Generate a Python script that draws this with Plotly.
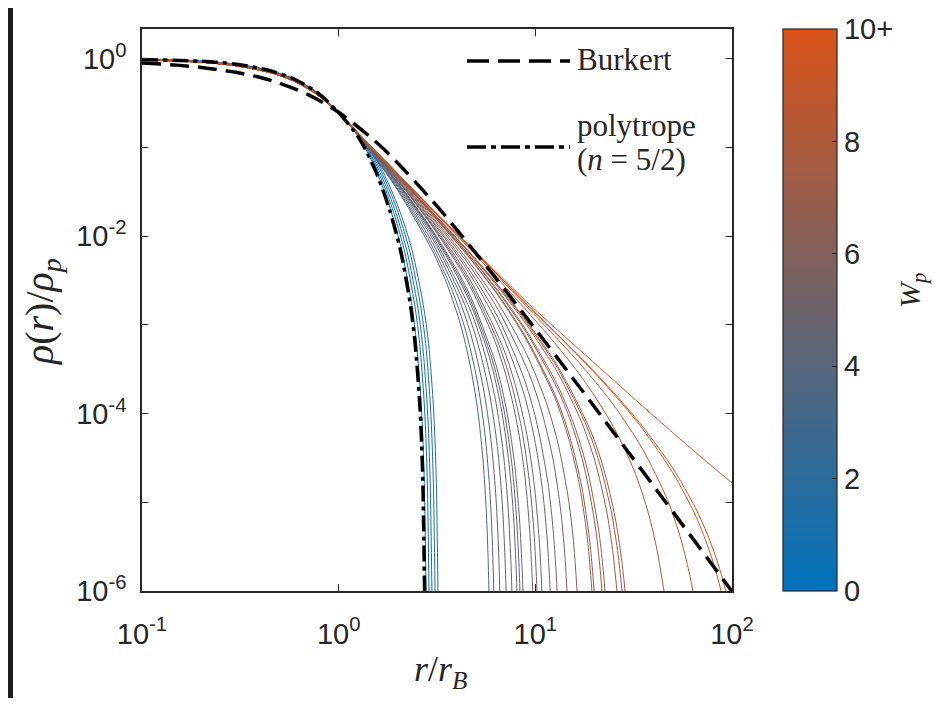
import plotly.graph_objects as go
from plotly.colors import sample_colorscale

# ---------------- data ----------------
# shared inner radii r/r_B (all profiles nearly coincide here)
r_inner = [0.1, 0.2, 0.3, 0.45, 0.6, 0.8, 1.05]
rho_inner_blue = [0.984, 0.94, 0.87, 0.735, 0.585, 0.398, 0.219]
rho_inner_gray = [0.98, 0.93, 0.855, 0.72, 0.57, 0.388, 0.219]
rho_inner_red = [0.975, 0.918, 0.838, 0.70, 0.555, 0.378, 0.219]

# W_p of each coloured profile
W_p = [0.3, 0.6, 0.9, 1.2, 1.5,
       3.6, 3.8, 4.0, 4.2, 4.4, 4.6, 4.7, 4.8, 5.1, 5.25, 5.4, 5.6, 5.8,
       6.0, 6.3, 6.6, 6.7, 6.9, 7.0, 7.3, 7.4, 7.5, 8.2, 8.8, 9.4, 9.7, 10.0]

# blue (low W_p) profiles: outer part
rho_blue_outer = [0.121, 0.0535, 0.0207, 0.00695, 0.00165, 6.17e-4, 1.43e-4, 5.98e-5, 1.64e-5, 1e-6]
r_b1 = [1.2945, 1.5591, 1.8255, 2.0918, 2.3575, 2.4896, 2.6208, 2.6737, 2.7256, 2.78]
r_b2 = [1.3064, 1.5877, 1.8722, 2.1566, 2.439, 2.5802, 2.7162, 2.771, 2.8247, 2.88]
r_b3 = [1.318, 1.6156, 1.9177, 2.2197, 2.5184, 2.6683, 2.8089, 2.8656, 2.9212, 2.98]
r_b4 = [1.3312, 1.6473, 1.9694, 2.2916, 2.6087, 2.7687, 2.9146, 2.9734, 3.0311, 3.09]
r_b5 = [1.3441, 1.6782, 2.02, 2.3617, 2.6969, 2.8666, 3.0177, 3.0786, 3.1383, 3.2]

# intermediate / high W_p profiles: outer part
r_g01 = [1.5, 2, 3, 3.576, 4.172, 4.649, 5.066, 5.364, 5.543, 5.662, 5.751, 5.81]
rho_g01 = [0.0809, 0.0328, 0.00682, 0.00279, 9.98e-4, 3.63e-4, 1.19e-4, 3.88e-5, 1.45e-5, 6.2e-6, 2.38e-6, 1e-6]
r_g02 = [1.5, 2, 3, 3.791, 4.423, 5.055, 5.529, 5.845, 6.035, 6.15]
rho_g02 = [0.082, 0.034, 0.00755, 0.0024, 8.59e-4, 2.39e-4, 6.17e-5, 1.54e-5, 3.96e-6, 1e-6]
r_g03 = [1.5, 2, 3, 4.076, 4.755, 5.434, 5.944, 6.283, 6.487, 6.6]
rho_g03 = [0.0832, 0.0355, 0.00843, 0.0020, 7.13e-4, 1.98e-4, 5.13e-5, 1.28e-5, 3.3e-6, 1e-6]
r_g04 = [1.5, 2, 3, 4.393, 5.125, 5.858, 6.407, 6.773, 6.993, 7.1]
rho_g04 = [0.0849, 0.0369, 0.00938, 0.00166, 5.93e-4, 1.64e-4, 4.27e-5, 1.06e-5, 2.74e-6, 1e-6]
r_g05 = [1.5, 2, 3, 4.714, 5.499, 6.285, 6.874, 7.267, 7.502, 7.6]
rho_g05 = [0.0861, 0.0382, 0.0102, 0.0014, 4.99e-4, 1.39e-4, 3.59e-5, 8.95e-6, 2.31e-6, 1e-6]
r_g06 = [1.5, 2, 3, 4.5, 5.844, 6.679, 7.305, 7.723, 7.973, 8.06]
rho_g06 = [0.087, 0.0392, 0.0109, 0.00212, 4.32e-4, 1.2e-4, 3.1e-5, 7.74e-6, 2.0e-6, 1e-6]
r_g07 = [1.5, 2, 3, 4.5, 6.062, 6.928, 7.578, 8.011, 8.27, 8.35]
rho_g07 = [0.0877, 0.0398, 0.0113, 0.00232, 3.95e-4, 1.1e-4, 2.84e-5, 7.1e-6, 1.83e-6, 1e-6]
r_g08 = [1.5, 2, 3, 4.5, 6.287, 7.186, 7.859, 8.308, 8.578, 8.65]
rho_g08 = [0.0883, 0.0404, 0.0117, 0.00254, 3.63e-4, 1.01e-4, 2.61e-5, 6.52e-6, 1.68e-6, 1e-6]
r_g09 = [1.5, 2, 3, 4.5, 6.069, 7.081, 8.092, 8.851, 9.356, 9.559, 9.7]
rho_g09 = [0.0895, 0.0419, 0.0128, 0.00314, 7.64e-4, 2.73e-4, 7.57e-5, 1.96e-5, 4.9e-6, 2.09e-6, 1e-6]
r_g10 = [1.5, 2, 3, 4.5, 6.395, 7.461, 8.527, 9.327, 9.86, 10.073, 10.2]
rho_g10 = [0.09, 0.0426, 0.0132, 0.0034, 6.75e-4, 2.41e-4, 6.7e-5, 1.73e-5, 4.33e-6, 1.85e-6, 1e-6]
r_g11 = [1.5, 2, 3, 4.5, 6.788, 7.919, 9.05, 9.899, 10.465, 10.691, 10.8]
rho_g11 = [0.0906, 0.043, 0.0137, 0.0037, 5.86e-4, 2.09e-4, 5.82e-5, 1.51e-5, 3.78e-6, 1.62e-6, 1e-6]
r_g12 = [1.5, 2, 3, 4.5, 6.5, 8.759, 10.01, 10.949, 11.575, 11.762, 11.9]
rho_g12 = [0.0914, 0.0441, 0.0145, 0.00418, 9.77e-4, 1.66e-4, 4.61e-5, 1.21e-5, 3.06e-6, 1.62e-6, 1e-6]
r_g13 = [1.5, 2, 3, 4.5, 6.5, 8.853, 10.215, 11.577, 12.258, 12.667, 12.9]
rho_g13 = [0.0923, 0.045, 0.0151, 0.00456, 1.18e-3, 2.33e-4, 7.53e-5, 1.68e-5, 5.52e-6, 2.07e-6, 1e-6]
r_g14 = [1.5, 2, 3, 4.5, 6.5, 9.246, 10.787, 12.328, 13.484, 14.1, 14.5]
rho_g14 = [0.0933, 0.0459, 0.0159, 0.00508, 0.00146, 2.9e-4, 1.05e-4, 2.98e-5, 7.83e-6, 2.69e-6, 1e-6]
r_g15 = [1.5, 2, 3, 4.5, 6.5, 9, 11.33, 13.07, 14.82, 15.69, 16.3]
rho_g15 = [0.0942, 0.0466, 0.0166, 0.00553, 0.00173, 4.73e-4, 1.36e-4, 4.49e-5, 1.0e-5, 3.3e-6, 1e-6]
r_g16 = [1.5, 2, 3, 4.5, 6.5, 9, 12.57, 14.665, 16.76, 18.33, 18.96, 19.4]
rho_g16 = [0.0948, 0.0476, 0.0174, 0.00612, 0.00211, 6.82e-4, 1.51e-4, 5.53e-5, 1.57e-5, 4.15e-6, 1.93e-6, 1e-6]
r_g17 = [1.5, 2, 3, 4.5, 6.5, 9, 12.91, 15.06, 17.22, 18.83, 19.48, 19.9]
rho_g17 = [0.0948, 0.0478, 0.0175, 0.00619, 0.00216, 7.13e-4, 1.43e-4, 5.24e-5, 1.49e-5, 3.92e-6, 1.83e-6, 1e-6]
r_g18 = [1.5, 2, 3, 4.5, 6.5, 9, 13, 15.44, 17.81, 20.19, 21.26, 21.8]
rho_g18 = [0.0951, 0.0482, 0.0179, 0.00646, 0.00233, 8.2e-4, 1.87e-4, 7.19e-5, 2.38e-5, 5.31e-6, 1.97e-6, 1e-6]
r_g19 = [1.5, 2, 3, 4.5, 6.5, 9, 13, 16.04, 18.51, 20.98, 22.04, 22.6]
rho_g19 = [0.0955, 0.0484, 0.018, 0.00656, 0.0024, 8.63e-4, 2.07e-4, 6.65e-5, 2.2e-5, 4.91e-6, 1.91e-6, 1e-6]
r_g20 = [1.5, 2, 3, 4.5, 6.5, 9, 13, 17.23, 20.1, 22.97, 24.69, 26.0]
rho_g20 = [0.0955, 0.0488, 0.0184, 0.00689, 0.00262, 1.01e-3, 2.88e-4, 7.89e-5, 2.9e-5, 8.27e-6, 2.94e-6, 1e-6]
r_g21 = [1.5, 2, 3, 4.5, 6.5, 9, 13, 18.38, 21.44, 24.5, 26.34, 27.6]
rho_g21 = [0.0957, 0.049, 0.0186, 0.00702, 0.00272, 1.07e-3, 3.22e-4, 6.93e-5, 2.55e-5, 7.26e-6, 2.58e-6, 1e-6]
r_g22 = [1.5, 2, 3, 4.5, 6.5, 9, 13, 19.1, 22.29, 25.47, 27.38, 28.6]
rho_g22 = [0.0959, 0.0491, 0.0187, 0.00708, 0.00277, 1.11e-3, 3.43e-4, 6.41e-5, 2.36e-5, 6.7e-6, 2.38e-6, 1e-6]
r_g23 = [1.5, 2, 3, 4.5, 6.5, 9, 13, 18, 25, 31.75, 37.04, 41.28, 45.1]
rho_g23 = [0.0966, 0.0499, 0.0195, 0.00773, 0.00325, 0.00146, 5.7e-4, 2.24e-4, 7.06e-5, 2.3e-5, 8.44e-6, 3.13e-6, 1e-6]
r_g24 = [1.5, 2, 3, 4.5, 6.5, 9, 13, 18, 25, 35, 47.17, 55.03, 59.75, 63.3]
rho_g24 = [0.097, 0.0504, 0.0198, 0.008, 0.00347, 0.00162, 6.9e-4, 3.09e-4, 1.25e-4, 4.03e-5, 1.04e-5, 3.81e-6, 1.85e-6, 1e-6]
r_g25 = [1.5, 2, 3, 4.5, 6.5, 9, 13, 18, 25, 35, 50, 65, 75, 82, 88]
rho_g25 = [0.0971, 0.0506, 0.02, 0.00817, 0.0036, 0.00172, 7.66e-4, 3.69e-4, 1.67e-4, 6.79e-5, 2.15e-5, 7.2e-6, 3.29e-6, 1.8e-6, 1e-6]
r_g26 = [1.5, 2, 3, 4.5, 6.5, 9, 13, 18, 25, 35, 50, 65, 75, 85, 93]
rho_g26 = [0.0972, 0.0507, 0.02, 0.00818, 0.00361, 0.00173, 7.76e-4, 3.77e-4, 1.73e-4, 7.21e-5, 2.42e-5, 8.75e-6, 4.34e-6, 2.02e-6, 1e-6]
r_top = [1.5, 2, 3, 4.5, 6.5, 9, 13, 18, 25, 35, 50, 70, 100]
rho_top = [0.0973, 0.0507, 0.0202, 0.00834, 0.00374, 0.00184, 8.7e-4, 4.56e-4, 2.38e-4, 1.22e-4, 6.1e-5, 3.2e-5, 1.65e-5]

# Burkert profile (dashed)
r_burkert = [0.1, 0.15, 0.2, 0.3, 0.4, 0.5, 0.7, 1, 1.5, 2, 3, 4, 6, 8, 10, 15, 20, 30, 40, 60, 80, 100]
rho_burkert = [0.9001, 0.8504, 0.8013, 0.7057, 0.6158, 0.5333, 0.3948, 0.25, 0.1231, 0.0667, 0.025,
               0.01176, 0.003861, 0.001709, 9.0e-4, 2.765e-4, 1.1875e-4, 3.58e-5, 1.523e-5,
               4.553e-6, 1.929e-6, 9.9e-7]

# polytrope n = 5/2 (dash-dot)
r_poly = [0.1, 0.2, 0.3, 0.45, 0.6, 0.8, 1.05, 1.289, 1.546, 1.804, 2.062, 2.32, 2.448, 2.577, 2.629, 2.68, 2.734]
rho_poly = [0.984, 0.94, 0.87, 0.735, 0.585, 0.398, 0.219, 0.121, 0.0535, 0.0207, 0.00695, 0.00165,
            6.17e-4, 1.43e-4, 5.98e-5, 1.64e-5, 1e-6]

x_tick_vals = [0.1, 1, 10, 100]
x_tick_text = ["10<sup>-1</sup>", "10<sup>0</sup>", "10<sup>1</sup>", "10<sup>2</sup>"]
y_tick_vals = [1e-6, 1e-4, 1e-2, 1]
y_tick_text = ["10<sup>-6</sup>", "10<sup>-4</sup>", "10<sup>-2</sup>", "10<sup>0</sup>"]
y_minor_vals = [1e-5, 1e-3, 1e-1]
cbar_tick_vals = [0, 2, 4, 6, 8, 10]
cbar_tick_text = ["0", "2", "4", "6", "8", "10+"]

# ---------------- figure ----------------
CS = [[0.0, "rgb(0,114,189)"], [1.0, "rgb(217,83,25)"]]
AX = "#262626"

blue_r = [r_b1, r_b2, r_b3, r_b4, r_b5]
other_r = [r_g01, r_g02, r_g03, r_g04, r_g05, r_g06, r_g07, r_g08, r_g09, r_g10, r_g11, r_g12, r_g13,
           r_g14, r_g15, r_g16, r_g17, r_g18, r_g19, r_g20, r_g21, r_g22, r_g23, r_g24, r_g25, r_g26, r_top]
other_rho = [rho_g01, rho_g02, rho_g03, rho_g04, rho_g05, rho_g06, rho_g07, rho_g08, rho_g09, rho_g10,
             rho_g11, rho_g12, rho_g13, rho_g14, rho_g15, rho_g16, rho_g17, rho_g18, rho_g19, rho_g20,
             rho_g21, rho_g22, rho_g23, rho_g24, rho_g25, rho_g26, rho_top]

curves = []
for rr in blue_r:
    curves.append((r_inner + rr, rho_inner_blue + rho_blue_outer))
for rr, yy in zip(other_r, other_rho):
    curves.append((rr, yy))

fig = go.Figure()
for i, (xx, yy) in enumerate(curves):
    w = W_p[i]
    if i >= 5:
        inner = rho_inner_gray if w < 6 else rho_inner_red
        xx = r_inner + xx
        yy = inner + yy
    col = sample_colorscale(CS, [w / 10.0])[0]
    fig.add_trace(go.Scatter(x=xx, y=yy, mode="lines",
                             line=dict(color=col, width=1, shape="spline", smoothing=0.8),
                             showlegend=False, hoverinfo="skip"))

fig.add_trace(go.Scatter(x=r_burkert, y=rho_burkert, mode="lines",
                         line=dict(color="black", width=3.5, dash="19px,9px", shape="spline", smoothing=0.8),
                         showlegend=False, hoverinfo="skip"))
fig.add_trace(go.Scatter(x=r_poly, y=rho_poly, mode="lines",
                         line=dict(color="black", width=3.5, dash="16px,5px,4px,5px", shape="spline", smoothing=0.8),
                         showlegend=False, hoverinfo="skip"))

# page geometry: the browser puts the figure 8 px from the page corner
OFF = 8
PL, PR, PT, PB = 142, 732, 29, 591          # plot box in page pixels
FW, FH = 941 - OFF, 706 - 2 * OFF
L, T = PL - OFF, PT - OFF
R, B = FW - (PR - OFF), FH - (PB - OFF)
PW, PH = PR - PL, PB - PT


def px(xp):
    return (xp - PL) / PW


def py(yp):
    return (PB - yp) / PH


tickfont = dict(family="Liberation Sans", size=29, color=AX)

# colour bar carrier (points lie outside the visible range)
fig.add_trace(go.Scatter(
    x=[0.01, 0.01], y=[1e-9, 1e-9], mode="markers", showlegend=False, hoverinfo="skip",
    marker=dict(color=[0, 10], cmin=0, cmax=10, colorscale=CS, size=1, showscale=True,
                colorbar=dict(x=px(783), xanchor="left", y=0, yanchor="bottom",
                              len=1, lenmode="fraction", thickness=54, thicknessmode="pixels",
                              xpad=0, ypad=0, outlinewidth=1.2, outlinecolor=AX,
                              tickvals=cbar_tick_vals, ticktext=cbar_tick_text,
                              ticks="inside", ticklen=5, tickwidth=1.2, tickcolor=AX,
                              tickfont=tickfont))))

fig.update_xaxes(type="log", range=[-1, 2], tickvals=x_tick_vals, ticktext=x_tick_text,
                 ticks="inside", ticklen=7, tickwidth=1.3, tickcolor=AX,
                 showline=True, linecolor=AX, linewidth=1.5, mirror="allticks",
                 showgrid=False, zeroline=False, tickfont=tickfont, ticklabelstandoff=16)
fig.update_yaxes(type="log", range=[-6, 0.337], tickvals=y_tick_vals, ticktext=y_tick_text,
                 ticks="inside", ticklen=6, tickwidth=1.3, tickcolor=AX,
                 minor=dict(tickvals=y_minor_vals, ticks="inside", ticklen=6, tickwidth=1.3,
                            tickcolor=AX, showgrid=False),
                 showline=True, linecolor=AX, linewidth=1.5, mirror="allticks",
                 showgrid=False, zeroline=False, tickfont=tickfont, ticklabelstandoff=8)

serif = "Liberation Serif"
annots = [
    dict(x=px(42), y=py(312), text="<i>ρ</i>(<i>r</i>)/<i>ρ</i><sub><i>p</i></sub>", textangle=-90,
         font=dict(family=serif, size=40, color=AX)),
    dict(x=px(440), y=py(671), text="<i>r</i>/<i>r</i><sub><i>B</i></sub>",
         font=dict(family=serif, size=36, color=AX)),
    dict(x=px(912), y=py(290), text="<i>W</i><sub><i>p</i></sub>", textangle=-90,
         font=dict(family=serif, size=30, color=AX)),
    dict(x=px(575), y=py(60), text="Burkert", xanchor="left",
         font=dict(family=serif, size=31, color=AX)),
    dict(x=px(575), y=py(125), text="polytrope", xanchor="left",
         font=dict(family=serif, size=31, color=AX)),
    dict(x=px(575), y=py(160), text="(<i>n</i> = 5/2)", xanchor="left",
         font=dict(family=serif, size=31, color=AX)),
]
for a in annots:
    a.setdefault("xanchor", "center")
    a.update(xref="paper", yref="paper", showarrow=False, yanchor="middle")

shapes = [
    dict(type="line", xref="paper", yref="paper", x0=px(467), x1=px(570), y0=py(61), y1=py(61),
         line=dict(color="black", width=3.5, dash="22px,9px")),
    dict(type="line", xref="paper", yref="paper", x0=px(467), x1=px(570), y0=py(147), y1=py(147),
         line=dict(color="black", width=3.5, dash="19px,5px,5px,5px")),
    dict(type="rect", xref="paper", yref="paper", x0=px(OFF - 2), x1=px(13), y0=py(720), y1=py(0),
         fillcolor="#1f1f1f", line=dict(width=0), layer="above"),
]

fig.update_layout(width=FW, height=FH, autosize=False,
                  margin=dict(l=L, r=R, t=T, b=B, pad=0),
                  paper_bgcolor="white", plot_bgcolor="white",
                  annotations=annots, shapes=shapes, showlegend=False)

fig.write_html("out.html")
